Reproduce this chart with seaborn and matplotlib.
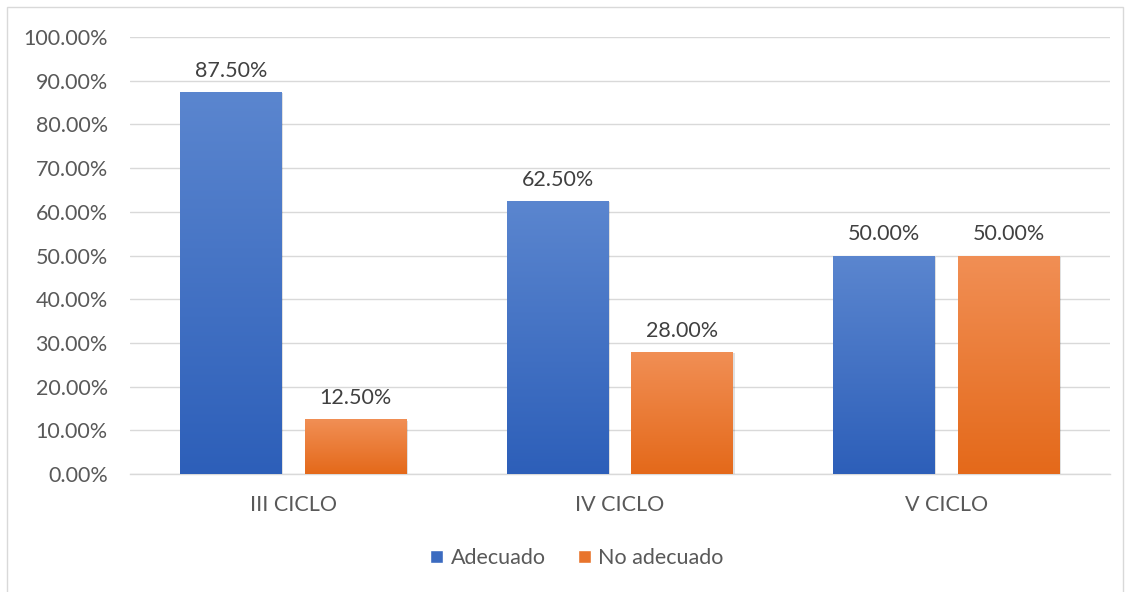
import matplotlib
matplotlib.use("Agg")
import matplotlib.pyplot as plt
import seaborn as sns
import pandas as pd
import numpy as np
from matplotlib.colors import LinearSegmentedColormap
from matplotlib.patches import Patch, Rectangle
from matplotlib.ticker import FuncFormatter, MultipleLocator

categories = ["III CICLO", "IV CICLO", "V CICLO"]
series_names = ["Adecuado", "No adecuado"]
adecuado = [87.5, 62.5, 50.0]
no_adecuado = [12.5, 28.0, 50.0]

df = pd.DataFrame({
    "ciclo": categories * 2,
    "serie": [series_names[0]] * 3 + [series_names[1]] * 3,
    "valor": adecuado + no_adecuado,
})

sns.set_theme(style="white")
plt.rcParams["font.family"] = ["Lato", "DejaVu Sans"]
text_color = "#595959"
fs = 15.5

fig = plt.figure(figsize=(11.3, 5.92), dpi=100)
ax = fig.add_axes([130 / 1130, 1 - 474 / 592, 980 / 1130, 437 / 592])

base_colors = {"Adecuado": "#4472C4", "No adecuado": "#ED7D31"}
sns.barplot(data=df, x="ciclo", y="valor", hue="serie", order=categories,
            hue_order=series_names, palette=base_colors, width=0.765, gap=0.184,
            ax=ax, legend=False, zorder=3, linewidth=0, edgecolor="none")

ax.set_xlim(-0.5, 2.5)
ax.set_ylim(0, 100)
ax.yaxis.set_major_locator(MultipleLocator(10))
ax.yaxis.set_major_formatter(FuncFormatter(lambda v, p: f"{v:.2f}%"))
ax.set_xlabel("")
ax.set_ylabel("")
ax.grid(axis="y", color="#d9d9d9", linewidth=1.0, zorder=0)
ax.set_axisbelow(True)
for s in ["top", "right", "left"]:
    ax.spines[s].set_visible(False)
ax.spines["bottom"].set_color("#d9d9d9")
ax.spines["bottom"].set_linewidth(1.0)
ax.tick_params(axis="both", length=0, labelsize=fs, labelcolor=text_color)
ax.tick_params(axis="y", pad=16)
ax.tick_params(axis="x", pad=15)

grads = {
    "Adecuado": LinearSegmentedColormap.from_list("b", ["#2d5fb9", "#5b86cf"]),
    "No adecuado": LinearSegmentedColormap.from_list("o", ["#e4691a", "#f18f55"]),
}
grad = np.linspace(0, 1, 256).reshape(-1, 1)
for container, name in zip(ax.containers, series_names):
    for patch in container.patches:
        x0 = patch.get_x()
        w = patch.get_width()
        h = patch.get_height()
        sh = Rectangle((x0 + 0.004, 0), w, h - 0.3, facecolor="#000000", alpha=0.12,
                       zorder=2.5, linewidth=0)
        ax.add_patch(sh)
        im = ax.imshow(grad, cmap=grads[name], origin="lower", aspect="auto",
                       extent=[x0, x0 + w, 0, h], zorder=3.5)
        im.set_clip_path(patch)
    ax.bar_label(container, labels=[f"{v:.2f}%" for v in container.datavalues],
                 padding=8, fontsize=fs, color="#404040")
ax.set_xlim(-0.5, 2.5)
ax.set_ylim(0, 100)

handles = [Patch(facecolor=grads[n](0.3), label=n) for n in series_names]
leg = fig.legend(handles=handles, loc="center", bbox_to_anchor=(577 / 1130, 1 - 558 / 592),
                 ncol=2, frameon=False, fontsize=fs, handlelength=0.6, handleheight=0.6,
                 handletextpad=0.35, columnspacing=1.5, labelcolor=text_color)

border = Rectangle((7 / 1130, -0.01), 1116 / 1130, 1 - 7 / 592 + 0.01, transform=fig.transFigure,
                   fill=False, edgecolor="#d9d9d9", linewidth=1.0)
fig.patches.append(border)

fig.savefig("out.png", dpi=100, facecolor="white")
